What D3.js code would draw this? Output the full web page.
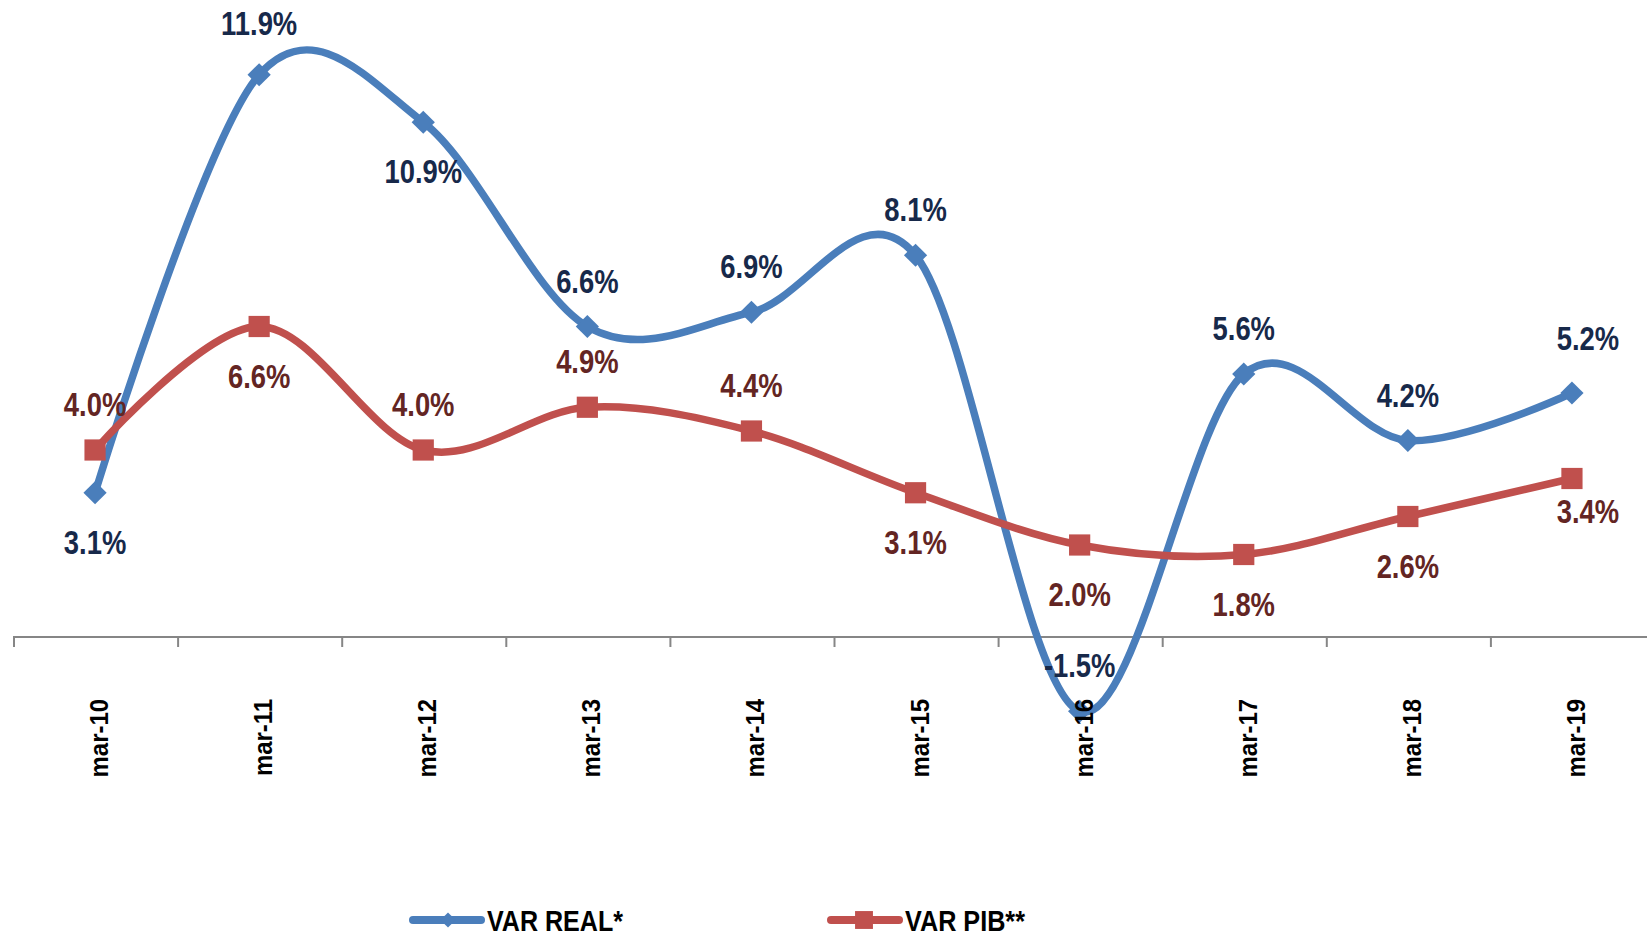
<!DOCTYPE html>
<html>
<head>
<meta charset="utf-8">
<script src="https://cdn.jsdelivr.net/npm/d3@7"></script>
<style>
  html, body { margin: 0; padding: 0; background: #fff; }
  svg { display: block; }
</style>
</head>
<body>
<svg id="chart" width="1647" height="933"></svg>
<script>
const categories = ["mar-10", "mar-11", "mar-12", "mar-13", "mar-14", "mar-15", "mar-16", "mar-17", "mar-18", "mar-19"];
const varReal = [3.1, 11.9, 10.9, 6.6, 6.9, 8.1, -1.5, 5.6, 4.2, 5.2];
const varPib = [4.0, 6.6, 4.0, 4.9, 4.4, 3.1, 2.0, 1.8, 2.6, 3.4];
const seriesNames = ["VAR REAL*", "VAR PIB**"];
// where each data label sits relative to its point
const placeReal = ["below", "aboveFar", "below", "above", "above", "above", "above", "above", "above", "aboveRight"];
const placePib = ["above", "below", "above", "above", "above", "below", "below", "below", "below", "belowRight"];

const blue = "#4a7ebb";
const red = "#c0504d";
const blueText = "#17294a";
const redText = "#632523";
const font = "'Liberation Sans', Arial, sans-serif";

// label baseline offsets (px) from the point
const labelOffset = { above: [0, -34], aboveFar: [0, -40], aboveRight: [16, -43], below: [0, 61], belowRight: [16, 44] };

const svg = d3.select("#chart");

const x = d3.scaleBand().domain(categories).range([13, 13 + 10 * 164.1]).padding(0);
const y = d3.scaleLinear().domain([-2, 12]).range([735, 70]);
const cx = (c) => x(c) + x.bandwidth() / 2;
const axisY = y(0) - 3;

// category axis at zero
const axisG = svg.append("g").attr("transform", `translate(0, ${axisY})`);
axisG.append("line")
  .attr("x1", 13).attr("x2", 1647)
  .attr("stroke", "#868686").attr("stroke-width", 2);
axisG.selectAll("line.tick")
  .data(categories.concat(["end"]))
  .join("line")
  .attr("class", "tick")
  .attr("x1", (d, i) => 14 + i * x.bandwidth())
  .attr("x2", (d, i) => 14 + i * x.bandwidth())
  .attr("y1", 0).attr("y2", 10)
  .attr("stroke", "#868686").attr("stroke-width", 2);

const line = d3.line()
  .x((d, i) => cx(categories[i]))
  .y((d) => y(d))
  .curve(d3.curveCardinal.tension(0));

function drawSeries(values, color, marker) {
  svg.append("path")
    .datum(values)
    .attr("fill", "none")
    .attr("stroke", color)
    .attr("stroke-width", 7.5)
    .attr("stroke-linejoin", "round")
    .attr("d", line);

  const sym = marker === "diamond"
    ? d3.symbol().type(d3.symbolSquare).size(270)
    : d3.symbol().type(d3.symbolSquare).size(450);

  svg.append("g").selectAll("path")
    .data(values)
    .join("path")
    .attr("d", sym)
    .attr("fill", color)
    .attr("transform", (d, i) => `translate(${cx(categories[i])}, ${y(d)})` + (marker === "diamond" ? " rotate(45)" : ""));
}

drawSeries(varReal, blue, "diamond");
drawSeries(varPib, red, "square");

// axis labels (rotated)
svg.append("g").selectAll("text")
  .data(categories)
  .join("text")
  .attr("transform", (d) => `translate(${cx(d) + 13}, ${axisY + 62}) rotate(-90) scale(0.92, 1)`)
  .attr("text-anchor", "end")
  .attr("font-family", font)
  .attr("font-weight", "bold")
  .attr("font-size", 26)
  .attr("fill", "#000")
  .text((d) => d);

function drawLabels(values, places, color) {
  svg.append("g").selectAll("text")
    .data(values)
    .join("text")
    .attr("transform", (d, i) => {
      const [dx, dy] = labelOffset[places[i]];
      return `translate(${cx(categories[i]) + dx}, ${y(d) + dy}) scale(0.83, 1)`;
    })
    .attr("text-anchor", "middle")
    .attr("font-family", font)
    .attr("font-weight", "bold")
    .attr("font-size", 33)
    .attr("fill", color)
    .text((d) => d.toFixed(1) + "%");
}

drawLabels(varReal, placeReal, blueText);
drawLabels(varPib, placePib, redText);

// legend
const legend = [
  { name: seriesNames[0], color: blue, marker: "diamond", x0: 410, len: 136 },
  { name: seriesNames[1], color: red, marker: "square", x0: 828, len: 120 }
];
const lg = svg.append("g").selectAll("g").data(legend).join("g")
  .attr("transform", (d) => `translate(${d.x0}, 920)`);
lg.append("line")
  .attr("x1", 3).attr("x2", 71)
  .attr("stroke", (d) => d.color)
  .attr("stroke-width", 8)
  .attr("stroke-linecap", "round");
lg.append("path")
  .attr("d", (d) => d3.symbol().type(d3.symbolSquare).size(d.marker === "diamond" ? 115 : 320)())
  .attr("transform", (d) => `translate(${d.marker === "diamond" ? 38 : 36}, 0)` + (d.marker === "diamond" ? " rotate(45)" : ""))
  .attr("fill", (d) => d.color);
lg.append("text")
  .attr("x", 77)
  .attr("y", 10.5)
  .attr("font-family", font)
  .attr("font-weight", "bold")
  .attr("font-size", 29)
  .attr("fill", "#000")
  .attr("textLength", (d) => d.len)
  .attr("lengthAdjust", "spacingAndGlyphs")
  .text((d) => d.name);
</script>
</body>
</html>
